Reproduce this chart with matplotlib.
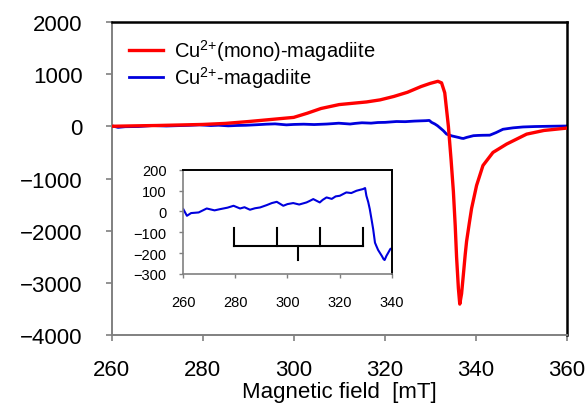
import matplotlib
matplotlib.use("Agg")
import matplotlib.pyplot as plt

plt.rcParams["font.family"] = ["Liberation Sans", "DejaVu Sans"]
plt.rcParams["mathtext.default"] = "regular"

# ------------------------------------------------------------
# data
# ------------------------------------------------------------
red_field = [260, 265, 270, 275, 280, 285, 290, 295, 300, 303,
             306, 310, 313, 316, 319, 322, 325, 328, 330, 331.7,
             332.5, 333.2, 334.0, 334.6, 335.1, 335.5, 335.8, 336.2, 336.5, 336.9,
             337.3, 337.7, 338.0, 338.6, 339.1, 340.2, 341.6, 343.8, 346.8, 351.2,
             355, 360]
red_signal = [0, 8, 15, 25, 35, 55, 90, 130, 170, 250,
              340, 415, 440, 465, 505, 570, 650, 760, 820, 860,
              830, 640, 0, -650, -1250, -1900, -2500, -3100, -3400, -3200,
              -2830, -2450, -2200, -1850, -1570, -1130, -750, -500, -340, -150,
              -80, -35]

blue_field = [260, 261.4, 263, 265.9, 269, 272, 274.2, 277, 279.3, 281.8,
              283.5, 285.6, 287.5, 289.5, 292, 294, 295.9, 298.4, 300, 302.2,
              304.5, 307.3, 308.5, 309.9, 311, 312.4, 313.5, 315, 317, 318.5,
              320.1, 321.5, 322.6, 324.5, 326.5, 328, 329, 329.8, 330.3, 331,
              331.6, 332.3, 332.9, 333.6, 334.1, 334.8, 335.4, 336.3, 336.9, 337.3,
              338, 338.6, 339.5, 340.5, 341.5, 343.1, 344.5, 346, 348.2, 350.4,
              353, 356, 360]
blue_signal = [11, -21, -8, -5, 14, 5, 11, 18, 27, 14,
               20, 8, 15, 19, 30, 40, 46, 27, 35, 40,
               33, 43, 50, 59, 52, 43, 55, 67, 60, 72,
               75, 84, 91, 88, 99, 104, 107, 112, 75, 45,
               11, -40, -85, -150, -165, -185, -197, -215, -229, -233,
               -213, -200, -180, -175, -172, -170, -120, -57, -30, -13,
               -5, 0, 5]

# hyperfine stick diagram in the inset
stick_pos = [279.5, 296.0, 312.4, 328.9]
stick_center = 304.2
stick_base = -165
stick_top = -79
stick_bottom = -233

red_label = "Cu$^{2{+}}$(mono)-magadiite"
blue_label = "Cu$^{2{+}}$-magadiite"

GRAY = "#808080"

# ------------------------------------------------------------
# main plot
# ------------------------------------------------------------
fig = plt.figure(figsize=(5.85, 4.10), dpi=100)
ax = fig.add_axes([0.1909, 0.1793, 0.7778, 0.7654])

ax.plot(red_field, red_signal, color="#ff0000", linewidth=2.4, label=red_label, zorder=3)
ax.plot(blue_field, blue_signal, color="#0000dd", linewidth=2.0, label=blue_label, zorder=2)

ax.set_xlim(260, 360)
ax.set_ylim(-4000, 2000)
ax.set_xticks([260, 280, 300, 320, 340, 360])
ax.set_yticks([-4000, -3000, -2000, -1000, 0, 1000, 2000])

for side in ["left", "bottom"]:
    ax.spines[side].set_color(GRAY)
    ax.spines[side].set_linewidth(1.4)
for side in ["top", "right"]:
    ax.spines[side].set_color("black")
    ax.spines[side].set_linewidth(1.8)

ax.tick_params(direction="out", length=4, width=1.2, color=GRAY, labelsize=16)
ax.tick_params(axis="x", pad=13)
ax.tick_params(axis="y", pad=17)

ax.set_xlabel("Magnetic field  [mT]", fontsize=16, labelpad=1)

ax.legend(loc="upper left", frameon=False, fontsize=14.5,
          handlelength=1.7, handletextpad=0.55, labelspacing=0.05,
          borderaxespad=0.0, bbox_to_anchor=(0.02, 0.977))

# ------------------------------------------------------------
# inset
# ------------------------------------------------------------
ins = fig.add_axes([0.3133, 0.3293, 0.3562, 0.2544])
ins.plot(blue_field, blue_signal, color="#0000dd", linewidth=1.5)

ins.plot([stick_pos[0], stick_pos[-1]], [stick_base, stick_base],
         color="black", linewidth=1.5)
for p in stick_pos:
    ins.plot([p, p], [stick_base, stick_top], color="black", linewidth=1.5)
ins.plot([stick_center, stick_center], [stick_base, stick_bottom],
         color="black", linewidth=1.5)

ins.set_xlim(260, 340)
ins.set_ylim(-300, 200)
ins.set_xticks([260, 280, 300, 320, 340])
ins.set_yticks([-300, -200, -100, 0, 100, 200])

for side in ["left", "bottom"]:
    ins.spines[side].set_color(GRAY)
    ins.spines[side].set_linewidth(1.2)
for side in ["top", "right"]:
    ins.spines[side].set_color("black")
    ins.spines[side].set_linewidth(1.4)

ins.tick_params(direction="out", length=3, width=1.0, color=GRAY, labelsize=10.5)
ins.tick_params(axis="x", pad=12)
ins.tick_params(axis="y", pad=9)

fig.savefig("out.png", dpi=100)
